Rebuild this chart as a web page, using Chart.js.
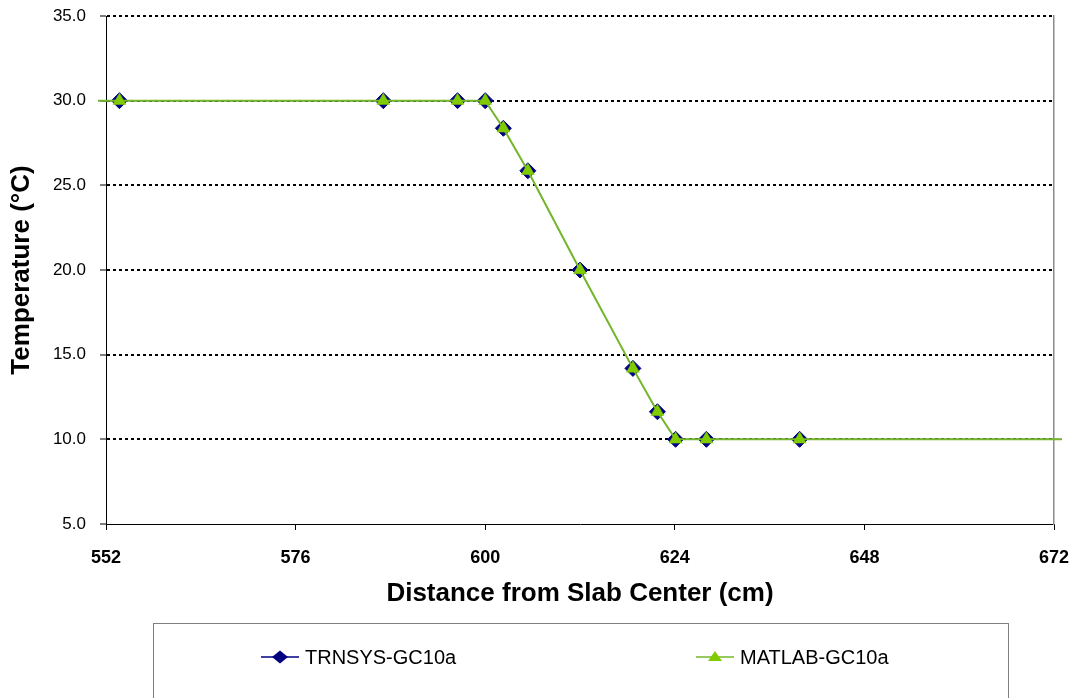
<!DOCTYPE html>
<html>
<head>
<meta charset="utf-8">
<script src="https://cdn.jsdelivr.net/npm/chart.js@4/dist/chart.umd.min.js"></script>
<style>
  html, body { margin: 0; padding: 0; background: #fff; overflow: hidden; }
  #wrap { position: relative; width: 1081px; height: 698px; }
  #c { position: absolute; left: 0; top: 0; }
  #legend { position: absolute; left: 153px; top: 623px; width: 856px; height: 120px;
            border: 1px solid #808080; background: transparent; box-sizing: border-box; }
  .item { position: absolute; top: 20px; height: 26px; display: flex; align-items: center;
          font-family: "Liberation Sans", Arial, sans-serif; font-size: 20px; color: #000; white-space: nowrap; }
  .item svg { margin-right: 6px; }
</style>
</head>
<body>
<div id="wrap">
  <canvas id="c" width="1081" height="698"></canvas>
  <div id="legend"></div>
</div>
<script>
// ---- data ----
const distanceCm   = [551, 553.7, 587.1, 596.5, 600, 602.3, 605.4, 612.0, 618.7, 621.8, 624.1, 628.0, 639.8, 673];
const trnsysTemp   = [30, 30, 30, 30, 30, 28.37, 25.86, 20.0, 14.19, 11.63, 10, 10, 10, 10];
const matlabTemp   = [30, 30, 30, 30, 30, 28.37, 25.86, 20.0, 14.19, 11.63, 10, 10, 10, 10];
const markerShown  = [false, true, true, true, true, true, true, true, true, true, true, true, true, false];
const seriesNames  = ["TRNSYS-GC10a", "MATLAB-GC10a"];
const xTicks       = [552, 576, 600, 624, 648, 672];
const yTicks       = [5, 10, 15, 20, 25, 30, 35];

const FONT = "'Liberation Sans', Arial, sans-serif";
const NAVY = "#000080";
const GREEN_LINE = "#74b72a";
const GREEN_MARK = "#80cc00";

const pts = arr => distanceCm.map((x, i) => ({ x: x, y: arr[i] }));

const chart = new Chart(document.getElementById('c'), {
  type: 'line',
  data: {
    datasets: [
      {
        label: seriesNames[0],
        data: pts(trnsysTemp),
        order: 2,
        borderColor: NAVY,
        borderWidth: 1,
        backgroundColor: NAVY,
        pointStyle: 'rectRot',
        pointRadius: markerShown.map(s => s ? 8 : 0),
        pointBorderWidth: 1,
        pointBorderColor: NAVY,
        pointBackgroundColor: NAVY,
        tension: 0,
        clip: false
      },
      {
        label: seriesNames[1],
        data: pts(matlabTemp),
        order: 1,
        borderColor: GREEN_LINE,
        borderWidth: 2,
        backgroundColor: GREEN_MARK,
        pointStyle: 'triangle',
        pointRadius: markerShown.map(s => s ? 7.5 : 0),
        pointBorderWidth: 0.5,
        pointBorderColor: GREEN_MARK,
        pointBackgroundColor: GREEN_MARK,
        tension: 0,
        clip: false
      }
    ]
  },
  options: {
    responsive: false,
    animation: false,
    devicePixelRatio: 1,
    events: [],
    layout: { autoPadding: false, padding: { left: 0, right: 27, top: 16, bottom: 0 } },
    plugins: { legend: { display: false }, tooltip: { enabled: false } },
    scales: {
      x: {
        type: 'linear',
        position: 'bottom',
        min: xTicks[0],
        max: xTicks[xTicks.length - 1],
        afterBuildTicks: s => { s.ticks = xTicks.map(v => ({ value: v })); },
        afterFit: s => { s.height = 174; s.paddingLeft = 0; s.paddingRight = 0; },
        grid: { drawOnChartArea: false, drawTicks: true, tickLength: 6, tickWidth: 1, tickColor: '#000' },
        border: { display: true, color: '#000', width: 1 },
        ticks: {
          padding: 17,
          color: '#000',
          font: { family: FONT, size: 18, weight: 'bold', lineHeight: 1.2 },
          callback: v => String(v)
        },
        title: {
          display: true,
          text: 'Distance from Slab Center (cm)',
          color: '#000',
          font: { family: FONT, size: 26, weight: 'bold', lineHeight: 1 },
          padding: { top: 0, bottom: 91 }
        }
      },
      y: {
        type: 'linear',
        position: 'left',
        min: yTicks[0],
        max: yTicks[yTicks.length - 1],
        afterBuildTicks: s => { s.ticks = yTicks.map(v => ({ value: v })); },
        afterFit: s => { s.width = 106; s.paddingTop = 0; s.paddingBottom = 0; },
        grid: {
          color: c => (c.tick && c.tick.value === yTicks[0]) ? 'rgba(0,0,0,0)' : '#000',
          lineWidth: 2, drawTicks: true, tickLength: 6, tickWidth: 1, tickColor: '#000', tickBorderDash: []
        },
        border: { display: true, color: '#000', width: 1, dash: [3, 3] },
        ticks: {
          padding: 14,
          color: '#000',
          font: { family: FONT, size: 17, lineHeight: 1.2 },
          callback: v => Number(v).toFixed(1)
        },
        title: {
          display: true,
          text: 'Temperature (°C)',
          color: '#000',
          font: { family: FONT, size: 26, weight: 'bold', lineHeight: 1 },
          padding: { top: 9, bottom: 0 }
        }
      },
      y2: {
        type: 'linear',
        position: 'right',
        min: yTicks[0],
        max: yTicks[yTicks.length - 1],
        afterFit: s => { s.width = 0; s.paddingTop = 0; s.paddingBottom = 0; },
        grid: { display: false, drawTicks: false },
        border: { display: true, color: '#8c8c8c', width: 1.5 },
        ticks: { display: false }
      }
    }
  }
});

// ---- HTML legend using the datasets' styles ----
const legend = document.getElementById('legend');
function markerSvg(ds) {
  const line = `<line x1="0" y1="10" x2="38" y2="10" stroke="${ds.borderColor}" stroke-width="1.5"/>`;
  let shape;
  if (ds.pointStyle === 'rectRot') {
    shape = `<polygon points="11,10 19,3.5 27,10 19,16.5" fill="${ds.pointBackgroundColor}"/>`;
  } else {
    shape = `<polygon points="19,4 26,14 12,14" fill="${ds.pointBackgroundColor}"/>`;
  }
  return `<svg width="38" height="20" viewBox="0 0 38 20">${line}${shape}</svg>`;
}
const legendLeft = [107, 542];
chart.data.datasets.forEach((ds, i) => {
  const d = document.createElement('div');
  d.className = 'item';
  d.style.left = legendLeft[i] + 'px';
  d.innerHTML = markerSvg(ds) + '<span>' + ds.label + '</span>';
  legend.appendChild(d);
});
</script>
</body>
</html>
